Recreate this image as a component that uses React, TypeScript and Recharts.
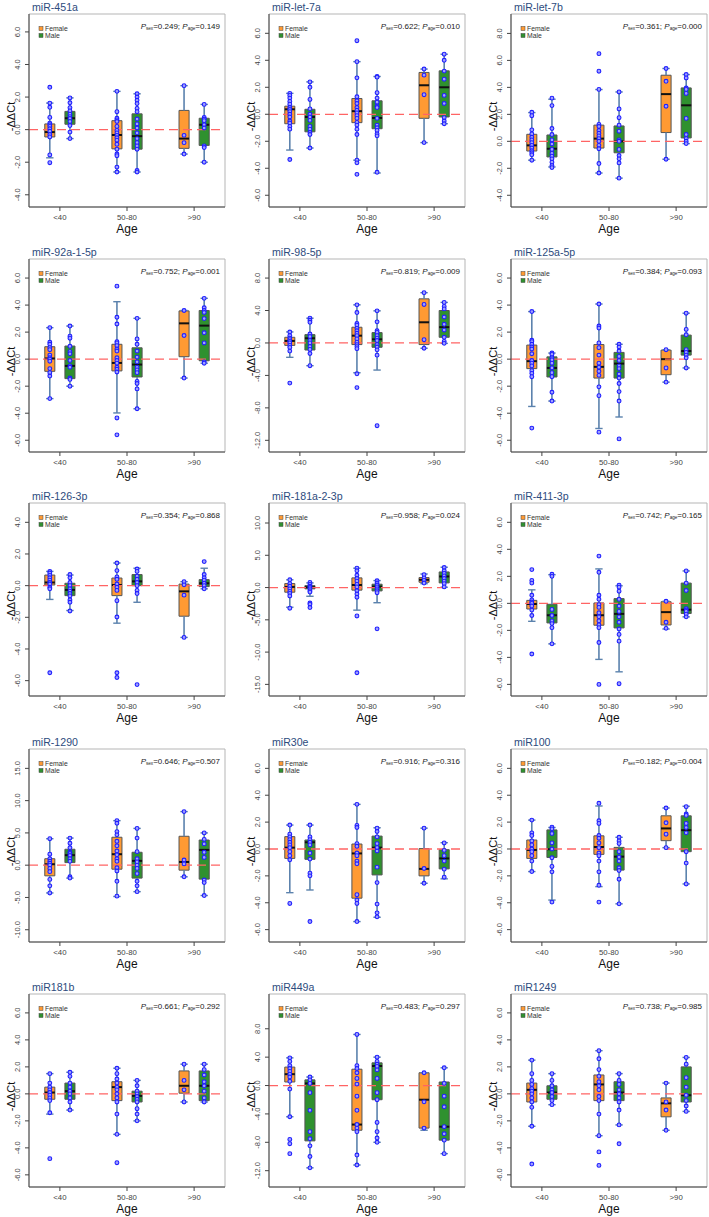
import {
  ScatterChart,
  Scatter,
  XAxis,
  YAxis,
  ReferenceArea,
  ReferenceLine,
  Customized,
} from "recharts";

const FONT = "'Liberation Sans', Arial, sans-serif";

const ageGroups = ["<40", "50-80", ">90"];
const sexLabels = ["Female", "Male"];
const sexColors = ["#ff9a33", "#2f912f"];

const panelTitles = [
  "miR-451a", "miR-let-7a", "miR-let-7b",
  "miR-92a-1-5p", "miR-98-5p", "miR-125a-5p",
  "miR-126-3p", "miR-181a-2-3p", "miR-411-3p",
  "miR-1290", "miR30e", "miR100",
  "miR181b", "miR449a", "miR1249",
];
const pSexValues = ["0.249", "0.622", "0.361", "0.752", "0.819", "0.384", "0.354", "0.958", "0.742", "0.646", "0.916", "0.182", "0.661", "0.483", "0.738"];
const pAgeValues = ["0.149", "0.010", "0.000", "0.001", "0.009", "0.093", "0.868", "0.024", "0.165", "0.507", "0.316", "0.004", "0.292", "0.297", "0.985"];

const ticks6 = [-6, -4, -2, 0, 2, 4, 6];
const yTickSets = [
  [-4, -2, 0, 2, 4, 6], ticks6, [-4, -2, 0, 2, 4, 6, 8],
  ticks6, [-12, -8, -4, 0, 4, 8], ticks6,
  [-6, -4, -2, 0, 2, 4], [-15, -10, -5, 0, 5, 10], ticks6,
  [-10, -5, 0, 5, 10, 15], ticks6, ticks6,
  ticks6, [-12, -8, -4, 0, 4, 8], ticks6,
];
const yDomains = [
  [-4.75, 7.1], [-6.87, 7.43], [-4.87, 9.44],
  [-6.87, 7.41], [-13.44, 10.35], [-6.87, 7.41],
  [-6.97, 5.22], [-16.8, 13.1], [-6.86, 7.43],
  [-11.9, 18], [-6.92, 7.44], [-6.92, 7.44],
  [-6.9, 7.4], [-14.3, 12.9], [-6.9, 7.4],
];

// box rows: [lower whisker, Q1, median, Q3, upper whisker]
// order: F<40, M<40, F50-80, M50-80, F>90, M>90
const box451a = [
  [-1.73, -0.45, -0.15, 0.35, 1.63], [-0.55, 0.33, 0.7, 1.12, 1.95],
  [-2.6, -1.18, -0.33, 0.55, 2.35], [-2.6, -1.2, -0.4, 0.97, 2.2],
  [-1.5, -1.15, -0.55, 1.18, 2.7], [-2.0, -0.97, 0.3, 0.7, 1.55],
];
const pts451a = [
  [2.6, 1.63, 1.37, 0.75, 0.4, 0.3, 0.2, 0.05, -0.1, -0.3, -0.45, -1.55, -2.03],
  [1.95, 1.65, 1.35, 1.15, 0.95, 0.8, 0.68, 0.5, 0.25, -0.15, -0.55],
  [2.35, 1.1, 0.7, 0.6, 0.5, 0.2, -0.05, -0.2, -0.35, -0.5, -0.65, -0.9, -1.2, -1.5, -1.6, -2.3, -2.6],
  [2.2, 2.0, 1.8, 1.6, 1.3, 1.1, 0.65, 0.35, 0.1, -0.2, -0.55, -0.8, -1.0, -1.2, -2.5, -2.6],
  [2.7, -0.35, -0.8, -1.5],
  [1.55, 0.75, 0.65, 0.55, 0.3, 0.1, -1.0, -1.1, -2.0],
];

const boxLet7a = [
  [-2.65, -0.7, 0.37, 0.6, 1.55], [-2.5, -1.3, -0.2, 0.37, 2.4],
  [-3.4, -0.62, 0.23, 1.17, 3.9], [-4.35, -1.07, -0.27, 1.0, 2.8],
  [-2.1, -0.3, 2.15, 3.1, 3.35], [-0.7, -0.2, 2.0, 3.22, 4.45],
];
const ptsLet7a = [
  [1.55, 1.4, 1.2, 0.95, 0.75, 0.5, 0.35, 0.2, 0, -0.2, -0.5, -0.65, -0.9, -1.1, -3.35],
  [2.4, 2.0, 1.1, 0.4, 0, -0.2, -0.45, -0.9, -1.1, -1.35, -1.5, -2.5],
  [5.45, 3.9, 2.7, 1.3, 1.0, 0.8, 0.5, 0.3, 0.1, -0.1, -0.3, -0.6, -0.8, -1.1, -1.5, -3.4, -3.6, -4.45],
  [2.8, 2.75, 1.6, 1.2, 0.9, 0.6, 0.5, -0.3, -0.8, -1.0, -1.2, -1.45, -1.6, -4.3],
  [3.35, 2.9, 1.45, -2.1],
  [4.45, 4.0, 3.2, 2.6, 1.4, 0.8, -0.25, -0.5, -0.7],
];

const boxLet7b = [
  [-1.4, -0.72, -0.3, 0.52, 2.13], [-1.9, -1.16, -0.55, 0.47, 3.12],
  [-2.35, -0.5, 0.2, 1.2, 3.84], [-2.73, -0.85, 0, 1.14, 3.66],
  [-1.33, 0.65, 3.5, 4.9, 5.4], [-0.17, 0.25, 2.67, 3.96, 4.95],
];
const ptsLet7b = [
  [2.15, 1.9, 0.85, 0.55, 0.3, 0.1, -0.1, -0.3, -0.5, -0.7, -0.85, -1.0, -1.4],
  [3.2, 2.65, 0.95, 0.5, 0.1, -0.2, -0.6, -0.9, -1.1, -1.3, -1.55, -1.8, -1.95],
  [6.5, 5.2, 3.85, 1.25, 1.1, 0.8, 0.6, 0.4, 0.2, 0, -0.3, -0.55, -1.65, -2.35],
  [3.66, 2.4, 1.75, 1.2, 0.75, 0.1, 0, -0.6, -1.05, -1.3, -1.6, -2.73],
  [5.4, 4.45, 2.6, -1.33],
  [4.95, 4.7, 3.95, 3.85, 3.55, 1.7, 0.5, 0.2, 0, -0.17],
];

const box92a = [
  [-2.92, -0.9, 0.05, 0.92, 2.33], [-2.0, -1.44, -0.5, 0.97, 2.45],
  [-3.98, -0.87, -0.28, 1.1, 4.25], [-3.67, -1.32, -0.4, 0.84, 3.02],
  [-1.4, 0.18, 2.65, 3.57, 3.6], [-0.3, -0.12, 2.48, 3.6, 4.5],
];
const pts92a = [
  [2.33, 1.25, 1.1, 0.85, 0.7, 0.3, 0.1, 0, -0.15, -0.7, -1.0, -1.25, -2.92],
  [2.45, 1.7, 1.55, 0.95, 0.55, 0.4, -0.1, -0.5, -0.6, -1.4, -1.5, -2.0],
  [5.4, 3.1, 2.6, 1.3, 1.2, 1.0, 0.75, 0.6, 0.1, -0.1, -0.3, -0.6, -0.75, -0.95, -4.35, -5.6],
  [3.02, 1.5, 1.1, 0.6, 0.15, -0.2, -0.6, -0.8, -1.0, -1.65, -1.8, -2.2, -3.67],
  [3.6, 1.75, -1.4],
  [4.5, 3.8, 3.6, 3.45, 3.0, 1.95, 1.2, -0.2, -0.3],
];

const box98 = [
  [-1.77, -0.3, 0.25, 0.7, 1.36], [-2.8, -0.87, 0.58, 1.03, 3.05],
  [-3.67, -0.2, 0.9, 1.94, 4.7], [-3.34, -0.53, 0.45, 1.28, 3.96],
  [-0.65, -0.2, 2.55, 5.44, 6.2], [-0.05, 0.7, 1.95, 4.0, 5.0],
];
const pts98 = [
  [1.35, 0.9, 0.6, 0.4, 0.2, 0, -0.3, -0.55, -1.0, -4.95],
  [3.05, 2.8, 2.55, 1.1, 0.8, 0.3, 0, -0.45, -0.8, -1.3, -2.8],
  [4.7, 3.75, 2.4, 2.2, 1.8, 1.5, 1.2, 0.9, 0.5, 0.1, -0.2, -0.45, -0.7, -3.8, -5.5],
  [3.96, 2.6, 1.5, 1.3, 0.9, 0.6, 0.3, -0.2, -0.5, -0.85, -1.5, -10.2],
  [6.2, 4.75, 0.4, -0.65],
  [5.0, 4.5, 4.2, 3.2, 2.3, 1.6, 0.7, 0.2, -0.05],
];

const box125a = [
  [-3.5, -0.7, -0.15, 1.04, 3.52], [-3.1, -1.32, -0.65, 0.17, 0.45],
  [-5.13, -1.4, -0.57, 1.08, 4.08], [-4.28, -1.4, -0.33, 0.5, 1.1],
  [-1.7, -1.15, 0, 0.67, 0.7], [-0.65, 0.3, 0.6, 1.78, 3.4],
];
const pts125a = [
  [3.52, 1.4, 1.3, 1.1, 0.9, 0.75, 0.4, -0.1, -0.3, -0.5, -0.85, -1.05, -1.3, -5.1],
  [0.45, 0.35, 0.1, -0.05, -0.3, -0.65, -1.0, -1.3, -2.45, -3.1],
  [4.08, 2.45, 2.3, 1.2, 0.85, 0.3, -0.3, -0.6, -0.9, -1.2, -2.05, -2.7, -5.4],
  [1.1, 0.9, 0.6, 0.2, -0.1, -0.5, -0.7, -1.1, -1.4, -1.8, -2.4, -3.1, -5.9],
  [0.7, -0.65, -1.7],
  [3.4, 2.2, 1.8, 0.7, 0.5, 0.3, 0.1, -0.65],
];

const box126 = [
  [-0.87, 0.04, 0.2, 0.67, 0.9], [-1.57, -0.63, -0.27, 0.15, 0.67],
  [-2.37, -0.63, 0.04, 0.48, 1.43], [-1.05, 0, 0.27, 0.7, 1.1],
  [-3.27, -1.93, -0.36, 0.1, 0.25], [-0.2, -0.06, 0.15, 0.38, 1.1],
];
const pts126 = [
  [0.9, 0.8, 0.65, 0.5, 0.35, 0.2, 0.1, -0.1, -0.2, -5.5],
  [0.7, 0.5, 0.2, 0, -0.2, -0.35, -0.5, -0.65, -0.9, -1.05, -1.6],
  [1.43, 0.95, 0.55, 0.4, 0.1, -0.1, -0.3, -0.95, -1.98, -5.5, -5.8],
  [1.05, 0.9, 0.6, 0.4, 0.2, 0, -0.3, -0.5, -6.25],
  [0.25, 0.05, -0.6, -3.27],
  [1.52, 0.7, 0.5, 0.35, 0.15, 0, -0.2],
];

const box181a = [
  [-3.05, -0.72, 0.1, 0.62, 1.2], [-1.35, -0.2, 0.05, 0.3, 0.72],
  [-3.5, -0.4, 0.4, 1.5, 3.0], [-2.35, -0.52, 0.15, 0.52, 1.08],
  [0.6, 0.82, 1.2, 1.55, 2.1], [0.05, 0.72, 1.72, 2.42, 3.15],
];
const pts181a = [
  [1.2, 0.6, 0.2, -0.2, -0.6, -0.9, -1.3, -3.2],
  [0.8, 0.5, 0.2, 0, -0.2, -0.5, -0.7, -2.4, -2.6, -3.1],
  [3.0, 2.6, 1.9, 1.4, 1.0, 0.5, 0.1, -0.5, -1.0, -1.5, -4.4, -13.2],
  [1.05, 0.7, 0.4, 0.1, -0.2, -0.5, -0.8, -6.4],
  [2.0, 1.5, 1.1, 0.7],
  [3.1, 2.6, 2.2, 1.8, 1.4, 1.0, 0.6, 0.1],
];

const box411 = [
  [-1.33, -0.42, -0.05, 0.22, 1.0], [-3.0, -1.45, -0.88, -0.07, 2.12],
  [-4.15, -1.62, -0.88, 0.03, 2.55], [-5.07, -1.82, -0.78, 0.35, 1.3],
  [-1.9, -1.6, -0.65, 0.12, 0.15], [-1.0, -0.75, -0.47, 1.5, 2.4],
];
const pts411 = [
  [2.5, 1.7, 1.5, 0.6, 0.25, 0.1, 0, -0.2, -0.5, -0.9, -3.75],
  [2.15, 2.0, -0.45, -0.9, -1.3, -1.5, -1.8, -3.0],
  [3.5, 2.3, 0.6, 0.3, -0.1, -0.3, -0.7, -1.0, -1.3, -1.6, -1.8, -2.9, -6.0],
  [1.35, 1.2, 0.9, 0.3, -0.2, -0.6, -1.0, -1.4, -1.9, -2.3, -2.8, -5.95],
  [0.15, -1.4, -1.85],
  [2.4, 1.5, 0.95, -0.4, -0.5, -0.6, -0.8, -1.0],
];

const box1290 = [
  [-4.3, -1.65, 0.15, 1.0, 4.1], [-2.0, 0.4, 1.55, 2.47, 4.2],
  [-4.85, -0.62, 1.7, 4.33, 6.9], [-4.1, -2.0, 0.67, 2.0, 5.7],
  [-1.8, -0.77, 0.5, 4.48, 8.3], [-4.7, -2.16, 2.37, 3.9, 5.0],
];
const pts1290 = [
  [4.1, 1.7, 1.0, 0.6, 0.3, 0, -0.5, -1.0, -2.2, -3.2, -4.3],
  [4.2, 3.4, 2.7, 2.0, 1.8, 1.5, 1.0, 0.6, -1.8, -2.0],
  [6.9, 6.5, 5.2, 4.7, 3.7, 3.0, 2.2, 1.6, 1.0, 0.6, -0.4, -0.9, -2.5, -4.8],
  [5.7, 4.2, 2.1, 1.0, 0.5, 0, -0.5, -1.3, -2.5, -3.2, -4.1],
  [8.3, 0.8, 0.2, -1.8],
  [5.0, 4.0, 3.3, 2.0, 1.2, -2.3, -2.7, -4.7],
];

const box30e = [
  [-3.25, -0.7, 0.1, 0.92, 1.78], [-3.05, -0.77, 0.5, 0.67, 1.78],
  [-5.4, -3.66, -0.33, 0.37, 3.32], [-5.08, -1.93, 0.1, 0.96, 1.58],
  [-2.55, -2.0, -1.48, 0.03, 1.55], [-2.22, -1.48, -0.7, -0.05, 0.47],
];
const pts30e = [
  [1.78, 1.1, 0.9, 0.7, 0.5, 0.3, 0.1, -0.2, -0.5, -0.8, -4.05],
  [1.78, 0.9, 0.7, 0.5, 0.3, -0.3, -0.75, -1.8, -2.0, -5.4],
  [3.32, 1.75, 1.6, 0.4, 0.2, -0.3, -0.5, -0.9, -1.1, -3.4, -3.8, -4.05, -5.4],
  [1.55, 1.3, 0.9, 0.4, 0.1, -0.15, -1.35, -2.5, -4.1, -4.75, -5.05],
  [1.55, -1.45, -2.55],
  [0.45, -0.1, -0.5, -0.9, -1.5, -2.1],
];

const box100 = [
  [-1.68, -0.7, -0.07, 0.67, 2.15], [-3.8, -0.63, -0.02, 1.42, 1.6],
  [-2.8, -0.4, 0.15, 0.98, 3.2], [-4.08, -1.57, -0.57, 0.12, 0.87],
  [0.1, 0.62, 1.53, 2.47, 3.05], [-2.6, -0.2, 1.4, 2.47, 3.18],
];
const pts100 = [
  [2.15, 1.2, 1.0, 0.6, 0.3, 0, -0.2, -0.5, -0.9, -1.68],
  [1.62, 1.5, 1.15, 0.45, 0, -0.65, -1.3, -1.7, -3.95],
  [3.4, 2.1, 1.9, 1.0, 0.8, 0.45, 0.1, -0.3, -0.5, -0.9, -1.7, -2.7, -3.95],
  [0.87, 0.6, 0.4, -0.2, -0.6, -0.9, -1.4, -1.6, -2.25, -4.08],
  [3.05, 1.95, 1.1, 0.1],
  [3.15, 2.6, 2.5, 1.9, 1.6, 1.2, -0.2, -1.05, -2.6],
];

const box181b = [
  [-1.5, -0.4, 0.1, 0.5, 1.5], [-1.2, -0.4, 0.2, 0.8, 1.6],
  [-3.0, -0.5, 0.5, 0.9, 1.9], [-2.0, -0.6, -0.15, 0.2, 1.0],
  [-0.6, 0.05, 0.6, 1.7, 2.2], [-0.6, -0.5, 0.6, 1.7, 2.2],
];
const pts181b = [
  [1.5, 0.8, 0.5, 0.3, 0.1, -0.1, -0.3, -0.5, -1.4, -4.8],
  [1.6, 1.3, 0.8, 0.5, 0.2, 0, -0.3, -0.6, -1.2],
  [1.9, 1.5, 1.1, 0.8, 0.5, 0.3, 0, -0.3, -0.6, -1.5, -3.0, -5.1],
  [1.0, 0.6, 0.2, 0, -0.2, -0.4, -0.6, -1.1, -1.5, -2.0],
  [2.2, 1.0, 0.3, -0.6],
  [2.2, 1.8, 1.4, 0.9, 0.6, 0.2, -0.3, -0.6],
];

const box449a = [
  [-4.4, 0.5, 1.6, 2.6, 3.9], [-11.6, -7.8, 0.3, 0.8, 1.2],
  [-11.2, -6.3, -5.5, 2.3, 7.2], [-8.0, -2.0, 2.75, 3.2, 4.0],
  [-6.3, -6.0, -2.0, 1.8, 1.8], [-9.6, -7.7, -5.8, 0.5, 2.5],
];
const pts449a = [
  [3.9, 3.4, 2.8, 2.4, 2.0, 1.6, 1.2, 0.6, -0.5, -4.4, -7.6, -8.2, -9.6],
  [1.2, 0.8, 0.3, -1.0, -3.5, -6.5, -7.5, -8.5, -10.0, -11.6],
  [7.2, 2.8, 2.4, 1.8, 1.0, 0.2, -1.5, -3.5, -5.5, -6.0, -6.5, -9.8, -11.2],
  [4.0, 3.4, 3.0, 2.7, 2.2, 1.0, -1.0, -2.0, -5.2, -6.5, -7.4, -8.0],
  [1.8, -2.3, -6.0],
  [2.5, 0.3, -1.5, -3.0, -5.8, -6.8, -7.7, -9.6],
];

const box1249 = [
  [-2.4, -0.6, 0.3, 0.8, 2.5], [-0.8, -0.4, 0.1, 0.6, 1.5],
  [-3.1, -0.5, 0.7, 1.4, 3.2], [-2.3, -0.5, 0.1, 0.9, 1.5],
  [-2.7, -1.7, -0.7, -0.3, 0.8], [-1.3, -0.6, -0.1, 2.0, 2.7],
];
const pts1249 = [
  [2.5, 1.5, 1.0, 0.7, 0.4, 0.2, 0, -0.3, -0.6, -1.0, -2.4, -5.2],
  [1.5, 1.0, 0.6, 0.3, 0.1, -0.2, -0.5, -0.8],
  [3.2, 2.6, 1.8, 1.3, 0.9, 0.6, 0.3, -0.2, -0.5, -1.5, -3.1, -4.3, -5.3],
  [1.5, 1.0, 0.7, 0.3, 0, -0.3, -0.6, -1.2, -2.3, -3.7],
  [0.8, -0.6, -1.2, -2.7],
  [2.7, 2.2, 1.2, 0.5, -0.1, -0.5, -0.9, -1.3],
];

const panelBoxes = [
  box451a, boxLet7a, boxLet7b, box92a, box98, box125a, box126, box181a,
  box411, box1290, box30e, box100, box181b, box449a, box1249,
];
const panelPoints = [
  pts451a, ptsLet7a, ptsLet7b, pts92a, pts98, pts125a, pts126, pts181a,
  pts411, pts1290, pts30e, pts100, pts181b, pts449a, pts1249,
];

// layout (page px)
const colLefts = [29, 269, 511];
const rowTops = [14, 259, 503, 749, 994];
const PL = 29; // plot left inside each chart
const PT = 14;
const PW = 196;
const PH = 193;
const X_DOMAIN = [0.54, 3.46];
const OFFSET = 0.15;
const HALF_BOX = 0.075;
const HALF_CAP = 0.055;
const WHISKER = "#5b82ad";

function groupX(i: number) {
  return Math.floor(i / 2) + 1 + (i % 2 === 0 ? -OFFSET : OFFSET);
}

function Dot(props: any) {
  return <circle cx={props.cx} cy={props.cy} r={1.9} fill="#a0a0ff" stroke="#1f1fff" strokeWidth={1.1} />;
}

function PanelText({ title, pSex, pAge }: { title: string; pSex: string; pAge: string }) {
  return (
    <g fontFamily={FONT}>
      <text x={PL + 3} y={PT - 3.5} fontSize={10.6} fill="#2d4b7d">
        {title}
      </text>
      <text x={PL + PW - 5} y={PT + 14.5} fontSize={8} textAnchor="end" fill="#222">
        <tspan fontStyle="italic">P</tspan>
        <tspan fontSize={4.6} dy={1.5}>sex</tspan>
        <tspan dy={-1.5}>{`=${pSex};  `}</tspan>
        <tspan fontStyle="italic">P</tspan>
        <tspan fontSize={4.6} dy={1.5}>age</tspan>
        <tspan dy={-1.5}>{`=${pAge}`}</tspan>
      </text>
      {sexLabels.map((s, i) => (
        <g key={s}>
          <rect x={PL + 10} y={PT + 12.5 + i * 7} width={4} height={4} fill={sexColors[i]} stroke="#444" strokeWidth={0.5} />
          <text x={PL + 16} y={PT + 17 + i * 7} fontSize={6.8} fill="#333">
            {s}
          </text>
        </g>
      ))}
      <text
        transform={`translate(${PL - 14},${PT + PH / 2 + 6}) rotate(-90)`}
        textAnchor="middle"
        fontSize={11}
        fill="#111"
      >
        -ΔΔCt
      </text>
      <text x={PL + PW / 2} y={PT + PH + 26} textAnchor="middle" fontSize={12} fill="#111">
        Age
      </text>
    </g>
  );
}

function Panel({ index }: { index: number }) {
  const boxes = panelBoxes[index];
  const points = panelPoints[index].flatMap((vals, g) => vals.map((v) => ({ x: groupX(g), y: v })));
  const domain = yDomains[index];
  const col = index % 3;
  const row = Math.floor(index / 3);
  return (
    <div style={{ position: "absolute", left: colLefts[col] - PL, top: rowTops[row] - PT }}>
      <ScatterChart width={PL + PW + 8} height={PT + PH + 30} margin={{ top: PT, right: 8, left: 0, bottom: 0 }}>
        <XAxis
          type="number"
          dataKey="x"
          domain={X_DOMAIN}
          ticks={[1, 2, 3]}
          allowDataOverflow
          height={30}
          tickSize={4}
          axisLine={{ stroke: "#444" }}
          tickLine={{ stroke: "#444" }}
          tick={(p: any) => (
            <text x={p.x} y={PT + PH + 13} textAnchor="middle" fontSize={7.8} fill="#444" fontFamily={FONT}>
              {ageGroups[Math.round(p.payload.value) - 1]}
            </text>
          )}
        />
        <YAxis
          type="number"
          dataKey="y"
          domain={domain}
          ticks={yTickSets[index]}
          allowDataOverflow
          width={PL}
          tickSize={4}
          axisLine={{ stroke: "#444" }}
          tickLine={{ stroke: "#444" }}
          tick={(p: any) => (
            <text
              transform={`translate(${PL - 9},${p.y}) rotate(-90)`}
              textAnchor="middle"
              fontSize={7.5}
              fill="#444"
              fontFamily={FONT}
            >
              {Number(p.payload.value).toFixed(1)}
            </text>
          )}
        />
        <ReferenceArea
          x1={X_DOMAIN[0]}
          x2={X_DOMAIN[1]}
          y1={domain[0]}
          y2={domain[1]}
          fill="none"
          stroke="#b5b5b5"
          strokeWidth={1}
        />
        {boxes.map((b, g) => {
          const x = groupX(g);
          return [
            <ReferenceLine key={`wl${g}`} segment={[{ x, y: b[0] }, { x, y: b[1] }]} stroke={WHISKER} strokeWidth={1.6} />,
            <ReferenceLine key={`wh${g}`} segment={[{ x, y: b[3] }, { x, y: b[4] }]} stroke={WHISKER} strokeWidth={1.6} />,
            <ReferenceLine key={`cl${g}`} segment={[{ x: x - HALF_CAP, y: b[0] }, { x: x + HALF_CAP, y: b[0] }]} stroke={WHISKER} strokeWidth={1.4} />,
            <ReferenceLine key={`ch${g}`} segment={[{ x: x - HALF_CAP, y: b[4] }, { x: x + HALF_CAP, y: b[4] }]} stroke={WHISKER} strokeWidth={1.4} />,
          ];
        })}
        {boxes.map((b, g) => {
          const x = groupX(g);
          return (
            <ReferenceArea
              key={`b${g}`}
              x1={x - HALF_BOX}
              x2={x + HALF_BOX}
              y1={b[1]}
              y2={b[3]}
              fill={sexColors[g % 2]}
              fillOpacity={1}
              stroke="#555"
              strokeWidth={1}
            />
          );
        })}
        {boxes.map((b, g) => {
          const x = groupX(g);
          return (
            <ReferenceLine
              key={`m${g}`}
              segment={[{ x: x - HALF_BOX, y: b[2] }, { x: x + HALF_BOX, y: b[2] }]}
              stroke="#111"
              strokeWidth={2}
            />
          );
        })}
        <ReferenceLine y={0} stroke="#ff6464" strokeWidth={1.3} strokeDasharray="9 5" />
        <Scatter data={points} isAnimationActive={false} shape={Dot} />
        <Customized component={() => <PanelText title={panelTitles[index]} pSex={pSexValues[index]} pAge={pAgeValues[index]} />} />
      </ScatterChart>
    </div>
  );
}

export default function App() {
  return (
    <div style={{ position: "absolute", left: 0, top: 0, width: 709, height: 1217, background: "#fff" }}>
      {panelTitles.map((t, i) => (
        <Panel key={t} index={i} />
      ))}
    </div>
  );
}
